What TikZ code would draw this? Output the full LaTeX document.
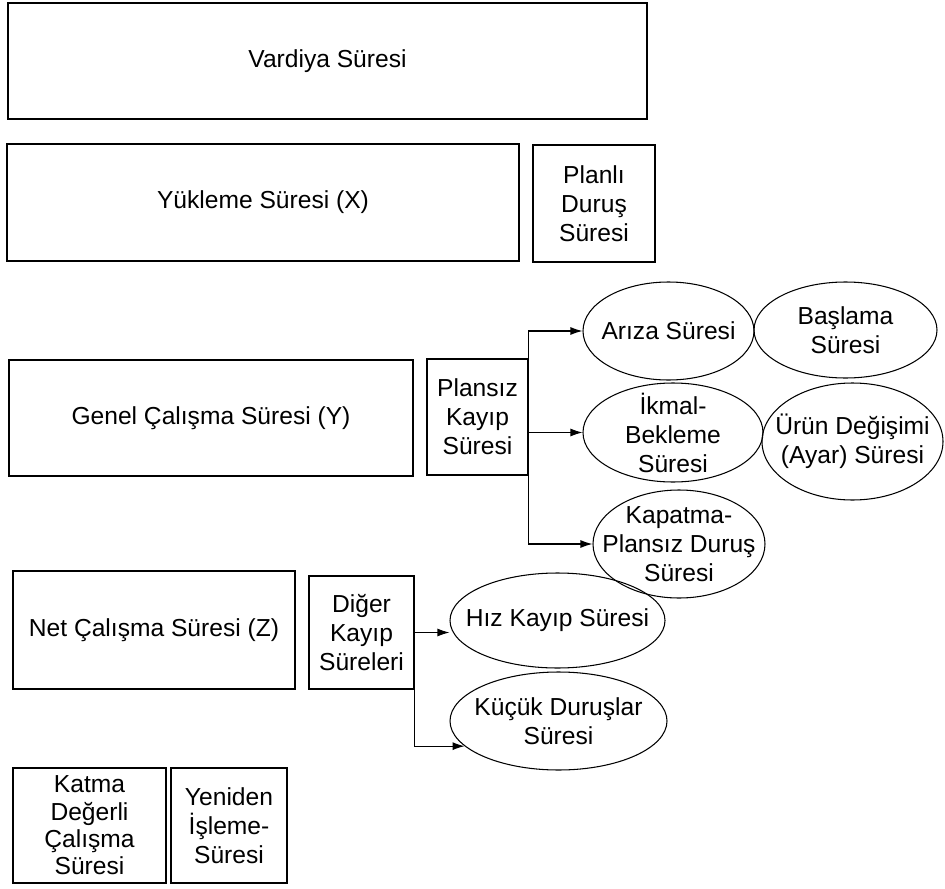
\documentclass[tikz,border=0pt]{standalone}
\usepackage{fontspec}
\setmainfont{Liberation Sans}
\usetikzlibrary{arrows.meta,shapes.geometric}

\begin{document}
\begin{tikzpicture}[
  kutu/.style={draw, line width=0.6pt, align=center, inner sep=2pt,
    font=\fontsize{14}{16.5}\selectfont},
  elips/.style={draw, ellipse, line width=0.6pt, align=center,
    inner xsep=-8mm, inner ysep=-4mm, font=\fontsize{14}{16.5}\selectfont},
  ok/.style={-{Latex[length=2.4mm,width=1.6mm]}, line width=0.6pt}]
  \useasboundingbox (0,0) rectangle (18.9,-17.78);

  % kutular
  \node [kutu, minimum width=12.78cm, minimum height=2.32cm] (vardiya) at (6.55,-1.22) {Vardiya Süresi};
  \node [kutu, minimum width=10.24cm, minimum height=2.34cm] (yukleme) at (5.26,-4.05) {Yükleme Süresi (X)};
  \node [kutu, minimum width=2.44cm, minimum height=2.34cm] (planli) at (11.88,-4.07) {Planlı\\Duruş\\Süresi};
  \node [kutu, minimum width=8.08cm, minimum height=2.32cm] (genel) at (4.22,-8.36) {Genel Çalışma Süresi (Y)};
  \node [kutu, minimum width=2.02cm, minimum height=2.32cm] (plansiz) at (9.55,-8.34) {Plansız\\Kayıp\\Süresi};
  \node [kutu, minimum width=5.64cm, minimum height=2.36cm] (net) at (3.08,-12.6) {Net Çalışma Süresi (Z)};
  \node [kutu, minimum width=2.1cm, minimum height=2.26cm] (diger) at (7.23,-12.65) {Diğer\\Kayıp\\Süreleri};
  \node [kutu, minimum width=3.06cm, minimum height=2.3cm, font=\fontsize{14}{15.5}\selectfont] (katma) at (1.79,-16.51) {Katma\\Değerli\\Çalışma\\Süresi};
  \node [kutu, minimum width=2.32cm, minimum height=2.3cm] (yeniden) at (4.58,-16.51) {Yeniden\\İşleme-\\Süresi};

  % elipsler
  \node [elips, minimum width=3.42cm, minimum height=1.96cm] (ariza) at (13.37,-6.62) {Arıza Süresi};
  \node [elips, minimum width=3.66cm, minimum height=1.92cm] (baslama) at (16.91,-6.6) {Başlama\\Süresi};
  \node [elips, minimum width=3.6cm, minimum height=1.98cm] (ikmal) at (13.46,-8.65) {İkmal-\\Bekleme\\Süresi};
  \node [elips, minimum width=3.62cm, minimum height=2.34cm] (urun) at (17.05,-8.83) {Ürün Değişimi\\(Ayar) Süresi};
  \node [elips, minimum width=3.44cm, minimum height=2.16cm] (kapatma) at (13.58,-10.88) {Kapatma-\\Plansız Duruş\\Süresi};
  \node [elips, minimum width=4.3cm, minimum height=1.9cm] (hiz) at (11.15,-12.41) {Hız Kayıp Süresi};
  \node [elips, minimum width=4.34cm, minimum height=1.96cm] (kucuk) at (11.17,-14.42) {Küçük Duruşlar\\Süresi};

  % oklar
  \draw [ok] (plansiz.east) |- (ariza.west);
  \draw [ok] (plansiz.east) |- (ikmal.west);
  \draw [ok] (plansiz.east) |- (kapatma.west);
  \draw [ok] (diger.east) -- (diger.east -| hiz.west);
  \draw [ok] (diger.south east) |- (kucuk.195);
\end{tikzpicture}
\end{document}
